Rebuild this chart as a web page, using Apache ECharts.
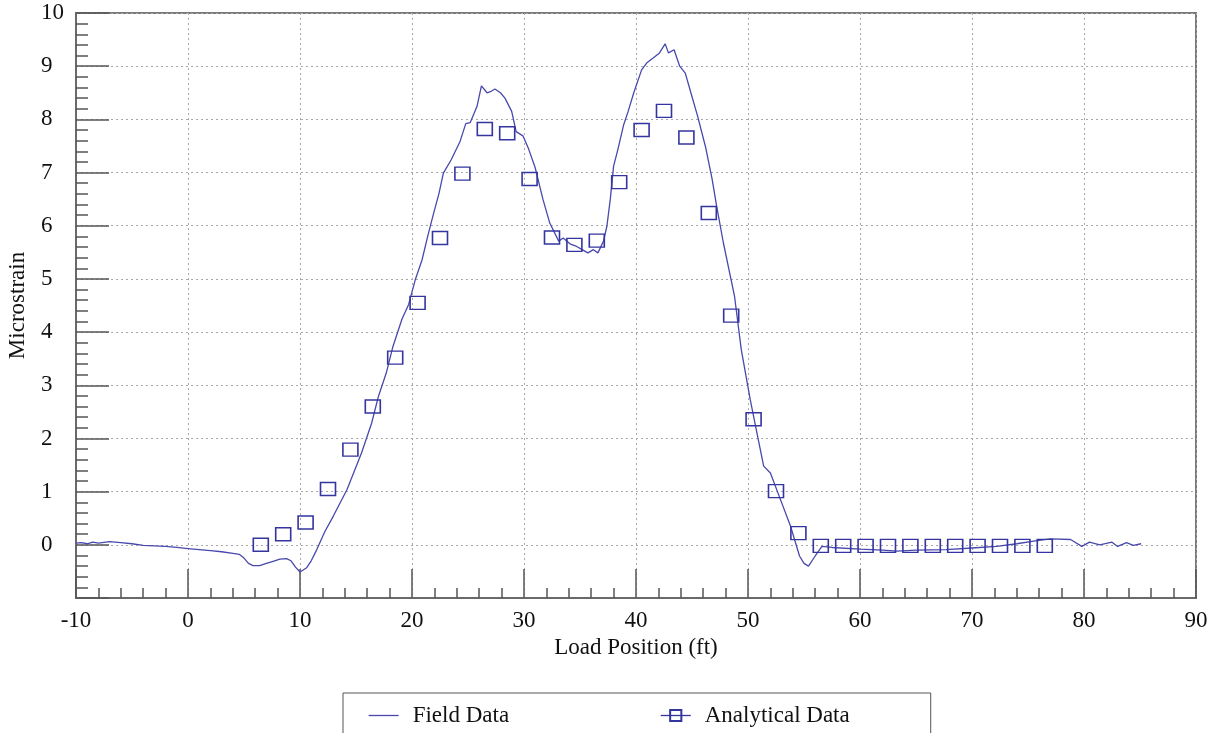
<!DOCTYPE html>
<html>
<head>
<meta charset="utf-8">
<script src="https://cdn.jsdelivr.net/npm/echarts@6/dist/echarts.min.js"></script>
<style>
html,body{margin:0;padding:0;background:#fff;}
#chart{width:1217px;height:733px;}
</style>
</head>
<body>
<div id="chart"></div>
<script>
// Field data (measured line)
var fieldX = [-10,-9.5,-9,-8.5,-8,-7,-6,-5,-4,-3,-2,-1,0,1,2,3,4,4.6,5.0,5.4,5.8,6.4,7.0,7.6,8.2,8.8,9.2,9.6,10.0,10.6,11.0,11.5,12.2,13.0,14.2,15.5,16.4,17.0,17.7,18.3,19.1,19.7,20.3,20.9,21.4,21.9,22.4,22.8,23.5,24.3,24.8,25.2,25.8,26.2,26.7,27.0,27.4,27.9,28.3,28.9,29.3,29.9,30.4,31.0,31.7,32.3,33.1,33.5,34.1,34.7,35.2,35.7,36.2,36.6,37.1,37.4,37.7,38.0,38.4,38.9,39.3,39.8,40.5,41.0,41.5,42.1,42.6,42.9,43.4,43.9,44.4,44.9,45.5,46.2,46.8,47.2,47.8,48.8,49.4,50.2,50.8,51.4,52.0,52.9,53.8,54.6,55.0,55.4,56.0,56.6,57.5,60.0,62.0,63.3,65.0,67.7,70.0,72.2,74.0,75.5,77.0,78.8,79.8,80.5,81.4,82.5,83.0,83.8,84.4,85.1];
var fieldY = [0.03,0.04,0.02,0.05,0.03,0.06,0.04,0.02,-0.01,-0.02,-0.03,-0.05,-0.07,-0.09,-0.11,-0.13,-0.16,-0.18,-0.25,-0.35,-0.39,-0.39,-0.35,-0.31,-0.27,-0.26,-0.30,-0.42,-0.51,-0.43,-0.30,-0.09,0.24,0.55,1.04,1.73,2.29,2.79,3.23,3.73,4.24,4.52,4.99,5.36,5.80,6.21,6.60,6.99,7.24,7.59,7.92,7.94,8.24,8.63,8.50,8.52,8.57,8.50,8.40,8.15,7.77,7.69,7.45,7.09,6.49,6.05,5.71,5.77,5.66,5.61,5.55,5.49,5.55,5.49,5.71,5.99,6.49,7.12,7.45,7.90,8.15,8.50,8.93,9.07,9.15,9.25,9.42,9.25,9.31,9.00,8.87,8.50,8.06,7.49,6.87,6.37,5.68,4.67,3.67,2.73,2.10,1.48,1.35,0.85,0.35,-0.21,-0.35,-0.40,-0.21,-0.03,-0.05,-0.08,-0.10,-0.12,-0.10,-0.09,-0.06,-0.03,0.02,0.07,0.11,0.10,-0.03,0.05,0.00,0.05,-0.03,0.04,-0.01,0.02];

// Analytical data (squares)
var analyticalX = [6.5,8.5,10.5,12.5,14.5,16.5,18.5,20.5,22.5,24.5,26.5,28.5,30.5,32.5,34.5,36.5,38.5,40.5,42.5,44.5,46.5,48.5,50.5,52.5,54.5,56.5,58.5,60.5,62.5,64.5,66.5,68.5,70.5,72.5,74.5,76.5];
var analyticalY = [0.00,0.20,0.42,1.05,1.79,2.60,3.52,4.55,5.77,6.98,7.82,7.74,6.88,5.78,5.64,5.72,6.82,7.80,8.16,7.66,6.24,4.31,2.36,1.01,0.22,-0.02,-0.02,-0.02,-0.02,-0.02,-0.02,-0.02,-0.02,-0.02,-0.02,-0.02];

var seriesNames = ['Field Data', 'Analytical Data'];
var xTitle = 'Load Position (ft)';
var yTitle = 'Microstrain';

function zip(a, b) { return a.map(function (v, i) { return [v, b[i]]; }); }

var FONT = '"Liberation Serif", "Times New Roman", serif';
var LINE_COLOR = '#4848ad';
var SQ_COLOR = '#3535a0';

var chart = echarts.init(document.getElementById('chart'), null, {renderer: 'canvas'});
chart.setOption({
  animation: false,
  backgroundColor: '#ffffff',
  textStyle: {fontFamily: FONT},
  grid: {left: 76, right: 21, top: 13, bottom: 135, show: true, borderColor: '#7a7a7a', borderWidth: 2,
    backgroundColor: 'transparent', containLabel: false, outerBoundsMode: 'none'},
  legend: {
    left: 343, top: 693,
    padding: [11, 81, 11, 25],
    borderColor: '#555', borderWidth: 1,
    itemWidth: 30, itemHeight: 14, itemGap: 151,
    textStyle: {fontFamily: FONT, fontSize: 23, color: '#111', padding: [0, 0, 0, 9]},
    data: [
      {name: seriesNames[0], itemStyle: {opacity: 0}, lineStyle: {width: 1.3, color: LINE_COLOR, opacity: 1}},
      {name: seriesNames[1], lineStyle: {width: 1.3, color: SQ_COLOR, opacity: 1}}
    ]
  },
  xAxis: {
    type: 'value', min: -10, max: 90, interval: 10,
    name: xTitle, nameLocation: 'middle', nameGap: 37,
    nameTextStyle: {fontFamily: FONT, fontSize: 23, color: '#111'},
    axisLine: {show: true, onZero: false, lineStyle: {color: '#6a6a6a', width: 2}},
    axisTick: {show: true, inside: true, length: 29, lineStyle: {color: '#555', width: 1.5}},
    minorTick: {show: true, splitNumber: 5, length: 10, lineStyle: {color: '#555', width: 1.5}},
    axisLabel: {fontFamily: FONT, fontSize: 23, color: '#111', margin: 11},
    splitLine: {show: true, lineStyle: {color: '#a8a8a8', type: [2, 3], width: 1}}
  },
  yAxis: {
    type: 'value', min: -1, max: 10, interval: 1,
    name: yTitle, nameLocation: 'middle', nameGap: 47, nameRotate: 90,
    nameTextStyle: {fontFamily: FONT, fontSize: 23, color: '#111'},
    axisLine: {show: true, onZero: false, lineStyle: {color: '#6a6a6a', width: 2}},
    axisTick: {show: true, inside: true, length: 33, lineStyle: {color: '#555', width: 1.5}},
    minorTick: {show: true, splitNumber: 5, length: 12, lineStyle: {color: '#555', width: 1.5}},
    axisLabel: {fontFamily: FONT, fontSize: 23, color: '#111', margin: 35, align: 'left',
      formatter: function (v) { return v === -1 ? '' : String(v); }},
    splitLine: {show: true, lineStyle: {color: '#a8a8a8', type: [2, 3], width: 1}}
  },
  series: [
    {
      name: seriesNames[0], type: 'line', data: zip(fieldX, fieldY),
      symbol: 'none', smooth: false,
      lineStyle: {color: LINE_COLOR, width: 1.3},
      itemStyle: {color: LINE_COLOR},
      z: 2
    },
    {
      name: seriesNames[1], type: 'line', data: zip(analyticalX, analyticalY),
      symbol: 'rect', symbolSize: [15, 13], showAllSymbol: true,
      lineStyle: {width: 0, opacity: 0},
      itemStyle: {color: 'rgba(255,255,255,0)', borderColor: SQ_COLOR, borderWidth: 1.5},
      emphasis: {disabled: true},
      z: 3
    }
  ]
});
</script>
</body>
</html>
